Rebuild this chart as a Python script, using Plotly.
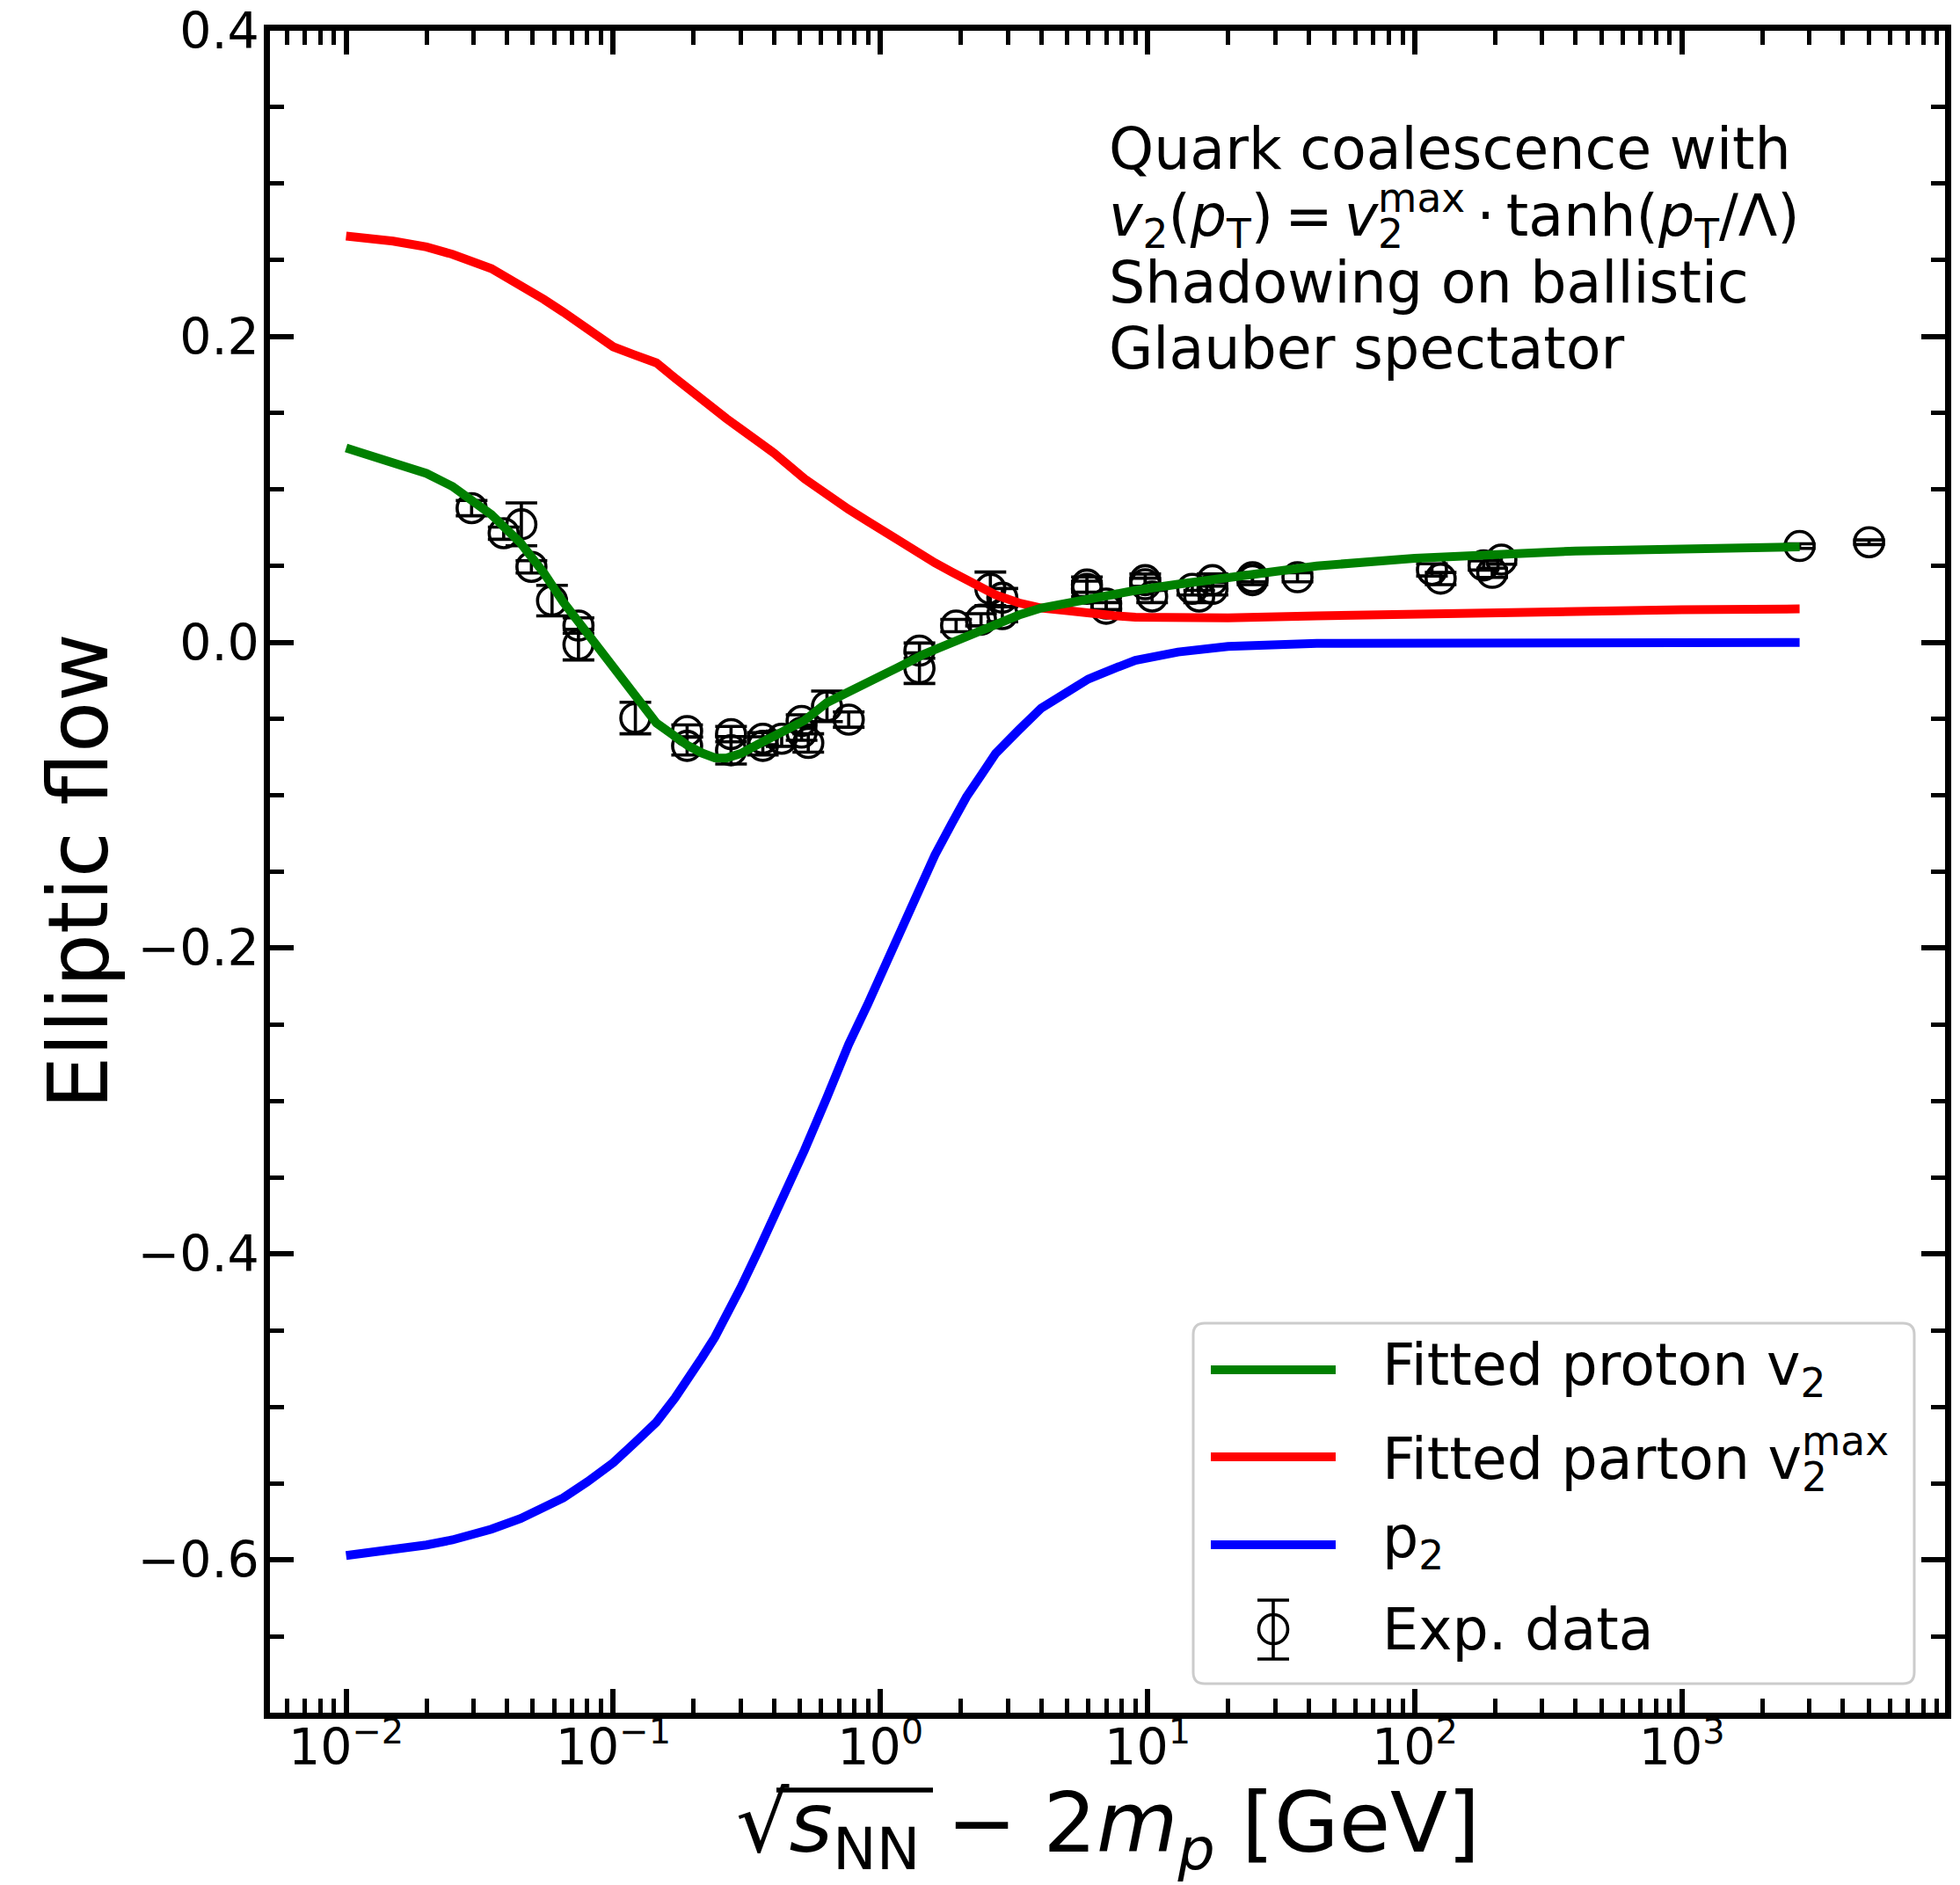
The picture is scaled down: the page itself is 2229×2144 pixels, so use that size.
import plotly.graph_objects as go

# ---------------- data ----------------
curve_x = [0.01, 0.015, 0.02, 0.025, 0.035, 0.045, 0.055, 0.065, 0.08, 0.1, 0.12, 0.145,
           0.17, 0.19, 0.215, 0.24, 0.265, 0.3, 0.35, 0.4, 0.52, 0.63, 0.76, 0.9, 1.0,
           1.15, 1.3, 1.45, 1.6, 1.85, 2.1, 2.4, 2.7, 3.3, 4.0, 5.0, 6.0, 7.5, 9.0, 13,
           20, 43, 100, 400, 1000, 2758]
proton_v2 = [0.1271, 0.118, 0.1105, 0.102, 0.0835, 0.065, 0.0454, 0.0263, 0.0053, -0.0172,
             -0.0355, -0.0527, -0.0614, -0.0675, -0.0724, -0.0755, -0.0757, -0.0727,
             -0.0665, -0.061, -0.051, -0.0395, -0.0328, -0.0268, -0.0228, -0.0172,
             -0.0122, -0.0078, -0.0046, 0.0004, 0.0042, 0.0085, 0.012, 0.0179, 0.0225,
             0.026, 0.0288, 0.0318, 0.034, 0.038, 0.0425, 0.050, 0.055, 0.0598, 0.061,
             0.0625]
parton_v2max = [0.2657, 0.2624, 0.2586, 0.2538, 0.2445, 0.234, 0.2243, 0.216, 0.2048,
                0.1933, 0.188, 0.1828, 0.173, 0.166, 0.1586, 0.152, 0.1464, 0.1396,
                0.131, 0.1238, 0.107, 0.096, 0.087, 0.079, 0.074, 0.067, 0.061, 0.056,
                0.052, 0.046, 0.041, 0.036, 0.031, 0.0258, 0.0225, 0.0208, 0.019,
                0.0175, 0.0165, 0.016, 0.016, 0.0173, 0.0187, 0.0206, 0.0213, 0.0219]
p2 = [-0.5972, -0.5937, -0.5903, -0.587, -0.580, -0.573, -0.566, -0.5595, -0.549,
      -0.5365, -0.5237, -0.510, -0.4943, -0.4825, -0.4677, -0.4545, -0.441, -0.422,
      -0.3975, -0.3765, -0.332, -0.2978, -0.263, -0.236, -0.218, -0.195, -0.1752,
      -0.1564, -0.139, -0.1185, -0.101, -0.086, -0.0726, -0.0572, -0.043, -0.0326,
      -0.024, -0.0171, -0.0117, -0.0063, -0.0026, -0.0006, -0.0002, 0.0, 0.0, 0.0]

data_x = [0.0295, 0.0389, 0.0453, 0.0494, 0.059, 0.0741, 0.0741, 0.121, 0.189, 0.189,
          0.276, 0.276, 0.363, 0.363, 0.427, 0.507, 0.507, 0.537, 0.631, 0.761,
          1.40, 1.40, 1.92, 2.38, 2.58, 2.86, 2.86, 5.93, 5.93, 7.0,
          7.0, 9.8, 9.8, 10.4, 14.7, 15.6, 17.5, 17.5, 24.7, 24.7,
          36.4, 116, 125, 181, 195, 211, 2758, 5018]
data_y = [0.0878, 0.0714, 0.0772, 0.0494, 0.0273, 0.011, -0.0015, -0.0495, -0.058, -0.0677,
          -0.060, -0.0706, -0.063, -0.0677, -0.063, -0.059, -0.0514, -0.0658, -0.0418, -0.0505,
          -0.0054, -0.0169, 0.011, 0.0148, 0.035, 0.0292, 0.0185, 0.0378, 0.035, 0.0254,
          0.022, 0.0407, 0.038, 0.030, 0.035, 0.030, 0.0407, 0.035, 0.0426, 0.0407,
          0.0426, 0.0474, 0.0417, 0.0503, 0.0455, 0.0541, 0.0630, 0.0655]
data_err = [0.005, 0.004, 0.014, 0.004, 0.010, 0.005, 0.010, 0.0103, 0.004, 0.006,
            0.005, 0.009, 0.004, 0.006, 0.005, 0.005, 0.004, 0.006, 0.010, 0.005,
            0.005, 0.010, 0.004, 0.004, 0.011, 0.006, 0.005, 0.005, 0.005, 0.004,
            0.004, 0.004, 0.004, 0.004, 0.004, 0.004, 0.004, 0.004, 0.003, 0.003,
            0.003, 0.004, 0.004, 0.003, 0.003, 0.003, 0.0015, 0.0015]

x_major = [0.01, 0.1, 1, 10, 100, 1000]
x_labels = ["10<sup>−2</sup>", "10<sup>−1</sup>", "10<sup>0</sup>",
            "10<sup>1</sup>", "10<sup>2</sup>", "10<sup>3</sup>"]
x_minor = [m * 10.0 ** e for e in range(-3, 4) for m in range(2, 10)]
y_major = [-0.6, -0.4, -0.2, 0.0, 0.2, 0.4]
y_labels = ["−0.6", "−0.4", "−0.2", "0.0", "0.2", "0.4"]
y_minor = [-0.65, -0.55, -0.5, -0.45, -0.35, -0.3, -0.25, -0.15, -0.1, -0.05,
           0.05, 0.1, 0.15, 0.25, 0.3, 0.35]

FONT = "DejaVu Sans"

# ---------------- figure ----------------
fig = go.Figure()
fig.add_trace(go.Scatter(
    x=data_x, y=data_y, mode="markers", showlegend=False,
    marker=dict(symbol="circle-open", size=33, color="black", line=dict(width=3.6)),
    error_y=dict(type="data", array=data_err, visible=True, color="black",
                 thickness=3.6, width=18)))
fig.add_trace(go.Scatter(x=curve_x, y=parton_v2max, mode="lines", showlegend=False,
                         line=dict(color="red", width=10)))
fig.add_trace(go.Scatter(x=curve_x, y=p2, mode="lines", showlegend=False,
                         line=dict(color="blue", width=10)))
fig.add_trace(go.Scatter(x=curve_x, y=proton_v2, mode="lines", showlegend=False,
                         line=dict(color="green", width=10)))

L, R, T, B = 307, 2212, 35, 1948
W, H = 2229, 2144


def px(xp):
    return (xp - L) / (R - L)


def py(yp):
    return (B - yp) / (B - T)


axis_common = dict(showline=True, linecolor="black", linewidth=6.5, mirror="ticks",
                   ticks="inside", tickcolor="black", tickwidth=5.5, ticklen=27,
                   showgrid=False, zeroline=False, automargin=False,
                   tickfont=dict(family=FONT, size=57, color="black"))

fig.update_layout(
    width=W, height=H, autosize=False,
    margin=dict(l=L, r=W - R, t=T, b=H - B, pad=0, autoexpand=False),
    paper_bgcolor="white", plot_bgcolor="white",
    xaxis=dict(type="log", range=[-2.285, 3.985], tickmode="array",
               tickvals=x_major, ticktext=x_labels, ticklabelstandoff=-16,
               minor=dict(tickmode="array", tickvals=x_minor, ticks="inside",
                          ticklen=16, tickwidth=5, tickcolor="black", showgrid=False),
               **axis_common),
    yaxis=dict(range=[-0.7, 0.4], tickmode="array", tickvals=y_major,
               ticktext=y_labels, ticklabelstandoff=-6,
               minor=dict(tickmode="array", tickvals=y_minor, ticks="inside",
                          ticklen=16, tickwidth=5, tickcolor="black", showgrid=False),
               **axis_common),
    showlegend=False,
)

TS = "\u2009"  # thin space
annotations = []
# text block
txt_x = px(1259)
lines = [
    ("Quark coalescence with", 170),
    ("<i>v</i><sub>2</sub>(<i>p</i><sub>T</sub>)" + TS + "=" + TS +
     "<i>v</i><sub><span style='letter-spacing:-29px'>2</span></sub><sup>max</sup>" +
     TS + "·" + TS + "tanh(<i>p</i><sub>T</sub>/Λ)", 246),
    ("Shadowing on ballistic", 322),
    ("Glauber spectator", 396),
]
for t, yy in lines:
    annotations.append(dict(text=t, x=txt_x, y=py(yy), xref="paper", yref="paper",
                            xanchor="left", yanchor="middle", showarrow=False,
                            font=dict(family=FONT, size=65, color="black")))

# axis titles
annotations.append(dict(text="Elliptic flow", x=px(88), y=0.5, xref="paper",
                        yref="paper", textangle=-90, xanchor="center",
                        yanchor="middle", showarrow=False,
                        font=dict(family=FONT, size=95, color="black")))
annotations.append(dict(
    text="√<i>s</i><sub>NN</sub> − 2<i>m</i><sub><i>p</i></sub> [GeV]",
    x=0.5, y=py(2080), xref="paper", yref="paper", xanchor="center",
    yanchor="middle", showarrow=False,
    font=dict(family=FONT, size=95, color="black")))

# legend texts
leg_text_x = px(1570)
leg_entries = [
    ("Fitted proton v<sub>2</sub>", 1557),
    ("Fitted parton v<sub><span style='letter-spacing:-29px'>2</span></sub><sup>max</sup>", 1655),
    ("p<sub>2</sub>", 1753),
    ("Exp. data", 1853),
]
for t, yy in leg_entries:
    annotations.append(dict(text=t, x=leg_text_x, y=py(yy), xref="paper", yref="paper",
                            xanchor="left", yanchor="middle", showarrow=False,
                            font=dict(family=FONT, size=65, color="black")))

fig.update_layout(annotations=annotations)

shapes = []
# legend frame (rounded)
x0, x1, y0, y1 = px(1357), px(2177), py(1915), py(1505)
rx, ry = 13 / (R - L), 13 / (B - T)
path = (f"M{x0+rx},{y0} L{x1-rx},{y0} Q{x1},{y0} {x1},{y0+ry} L{x1},{y1-ry} "
        f"Q{x1},{y1} {x1-rx},{y1} L{x0+rx},{y1} Q{x0},{y1} {x0},{y1-ry} "
        f"L{x0},{y0+ry} Q{x0},{y0} {x0+rx},{y0} Z")
shapes.append(dict(type="path", path=path, xref="paper", yref="paper",
                   line=dict(color="#cccccc", width=3), fillcolor="rgba(255,255,255,0.8)",
                   layer="above"))
for col, yy in [("green", 1558), ("red", 1657), ("blue", 1757)]:
    shapes.append(dict(type="line", xref="paper", yref="paper", x0=px(1377), x1=px(1519),
                       y0=py(yy), y1=py(yy), line=dict(color=col, width=10), layer="above"))
# exp data legend key
cx, cy, r = 1448, 1853, 16.5
shapes.append(dict(type="circle", xref="paper", yref="paper", x0=px(cx - r), x1=px(cx + r),
                   y0=py(cy + r), y1=py(cy - r), line=dict(color="black", width=3.6),
                   layer="above"))
shapes.append(dict(type="line", xref="paper", yref="paper", x0=px(cx), x1=px(cx),
                   y0=py(1887), y1=py(1820), line=dict(color="black", width=3.6),
                   layer="above"))
for yy in (1820, 1887):
    shapes.append(dict(type="line", xref="paper", yref="paper", x0=px(cx - 18),
                       x1=px(cx + 18), y0=py(yy), y1=py(yy),
                       line=dict(color="black", width=3.6), layer="above"))
# overline of the square root in x label
shapes.append(dict(type="line", xref="paper", yref="paper", x0=px(883), x1=px(1061),
                   y0=py(2036), y1=py(2036), line=dict(color="black", width=5.5)))
fig.update_layout(shapes=shapes)

fig.write_html("out.html")
